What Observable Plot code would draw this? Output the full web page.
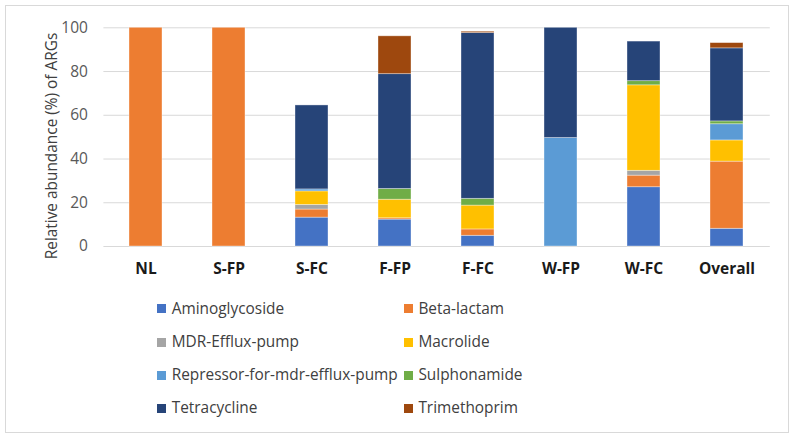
<!DOCTYPE html>
<html>
<head>
<meta charset="utf-8">
<script src="https://cdn.jsdelivr.net/npm/d3@7"></script>
<script src="https://cdn.jsdelivr.net/npm/@observablehq/plot@0.6"></script>
<style>
  html, body { margin: 0; padding: 0; background: #fff; }
  #wrap { position: relative; width: 795px; height: 439px; overflow: hidden; font-family: "Open Sans", sans-serif; }
  #border { position: absolute; left: 5px; top: 5px; width: 784px; height: 428px; border: 1px solid #d9d9d9; box-sizing: border-box; }
  #chart { position: absolute; left: 0; top: 0; }
  #ytitle { position: absolute; left: 51px; top: 146px; transform: translate(-50%, -50%) rotate(-90deg); white-space: nowrap; font-size: 15.4px; color: #404040; }
  .leg { position: absolute; font-size: 15.4px; color: #404040; white-space: nowrap; line-height: 1; }
  .sw { position: absolute; width: 9px; height: 9px; }
</style>
</head>
<body>
<div id="wrap">
  <div id="border"></div>
  <div id="chart"></div>
  <div id="ytitle">Relative abundance (%) of ARGs</div>
  <div id="legend"></div>
</div>
<script>
const categories = ["NL", "S-FP", "S-FC", "F-FP", "F-FC", "W-FP", "W-FC", "Overall"];
const classes = ["Aminoglycoside", "Beta-lactam", "MDR-Efflux-pump", "Macrolide",
  "Repressor-for-mdr-efflux-pump", "Sulphonamide", "Tetracycline", "Trimethoprim"];
const colors = ["#4472C4", "#ED7D31", "#A5A5A5", "#FFC000", "#5B9BD5", "#70AD47", "#264478", "#9E480E"];

const aminoglycoside = [0, 0, 13.2, 12.3, 4.9, 0, 27.1, 8.1];
const betaLactam     = [100, 100, 3.7, 0.6, 2.9, 0, 5.3, 30.7];
const mdrEffluxPump  = [0, 0, 2.1, 0, 0, 0, 2.2, 0];
const macrolide      = [0, 0, 6.2, 8.5, 10.9, 0, 39.1, 9.7];
const repressor      = [0, 0, 0.9, 0, 0, 49.6, 0, 7.4];
const sulphonamide   = [0, 0, 0, 4.9, 3.1, 0, 1.9, 1.3];
const tetracycline   = [0, 0, 38.4, 52.5, 75.8, 50.4, 18.1, 33.4];
const trimethoprim   = [0, 0, 0, 17.3, 0.6, 0, 0, 2.4];
const yTicks = [0, 20, 40, 60, 80, 100];

const series = [aminoglycoside, betaLactam, mdrEffluxPump, macrolide, repressor, sulphonamide, tetracycline, trimethoprim];
const data = [];
series.forEach((vals, i) => vals.forEach((v, j) => {
  if (v > 0) data.push({cat: categories[j], cls: classes[i], value: v});
}));

const chart = Plot.plot({
  width: 795,
  height: 285,
  marginLeft: 103.4,
  marginRight: 25.2,
  marginTop: 27.3,
  marginBottom: 39,
  style: {fontFamily: "'Open Sans', sans-serif", background: "transparent", overflow: "visible"},
  x: {domain: categories, paddingInner: 0.6, paddingOuter: 0.3, label: null, tickSize: 0, tickPadding: 17},
  y: {domain: [0, 100], ticks: yTicks, label: null, tickSize: 0, tickPadding: 16},
  color: {domain: classes, range: colors},
  marks: [
    Plot.gridY(yTicks, {stroke: "#d9d9d9", strokeOpacity: 1, strokeWidth: 1}),
    Plot.barY(data, {x: "cat", y: "value", fill: "cls", stroke: "#ffffff", strokeOpacity: 0.45, strokeWidth: 0.8}),
    Plot.axisX({tickSize: 0, tickPadding: 16, fontSize: 15.5, fontWeight: "bold", fill: "#1a1a1a", label: null}),
    Plot.axisY({ticks: yTicks, tickSize: 0, tickPadding: 16, fontSize: 15.5, fill: "#595959", label: null})
  ]
});
document.getElementById("chart").appendChild(chart);

// legend
const legend = document.getElementById("legend");
const colX = [157.3, 404];
const rowY = [308.7, 342, 375.3, 408.3];
classes.forEach((c, i) => {
  const col = i % 2, row = Math.floor(i / 2);
  const sw = document.createElement("div");
  sw.className = "sw";
  sw.style.left = colX[col] + "px";
  sw.style.top = (rowY[row] - 4.5) + "px";
  sw.style.background = colors[i];
  legend.appendChild(sw);
  const t = document.createElement("div");
  t.className = "leg";
  t.textContent = c;
  t.style.left = (colX[col] + 14.4) + "px";
  t.style.top = (rowY[row] - 8) + "px";
  legend.appendChild(t);
});
</script>
</body>
</html>
